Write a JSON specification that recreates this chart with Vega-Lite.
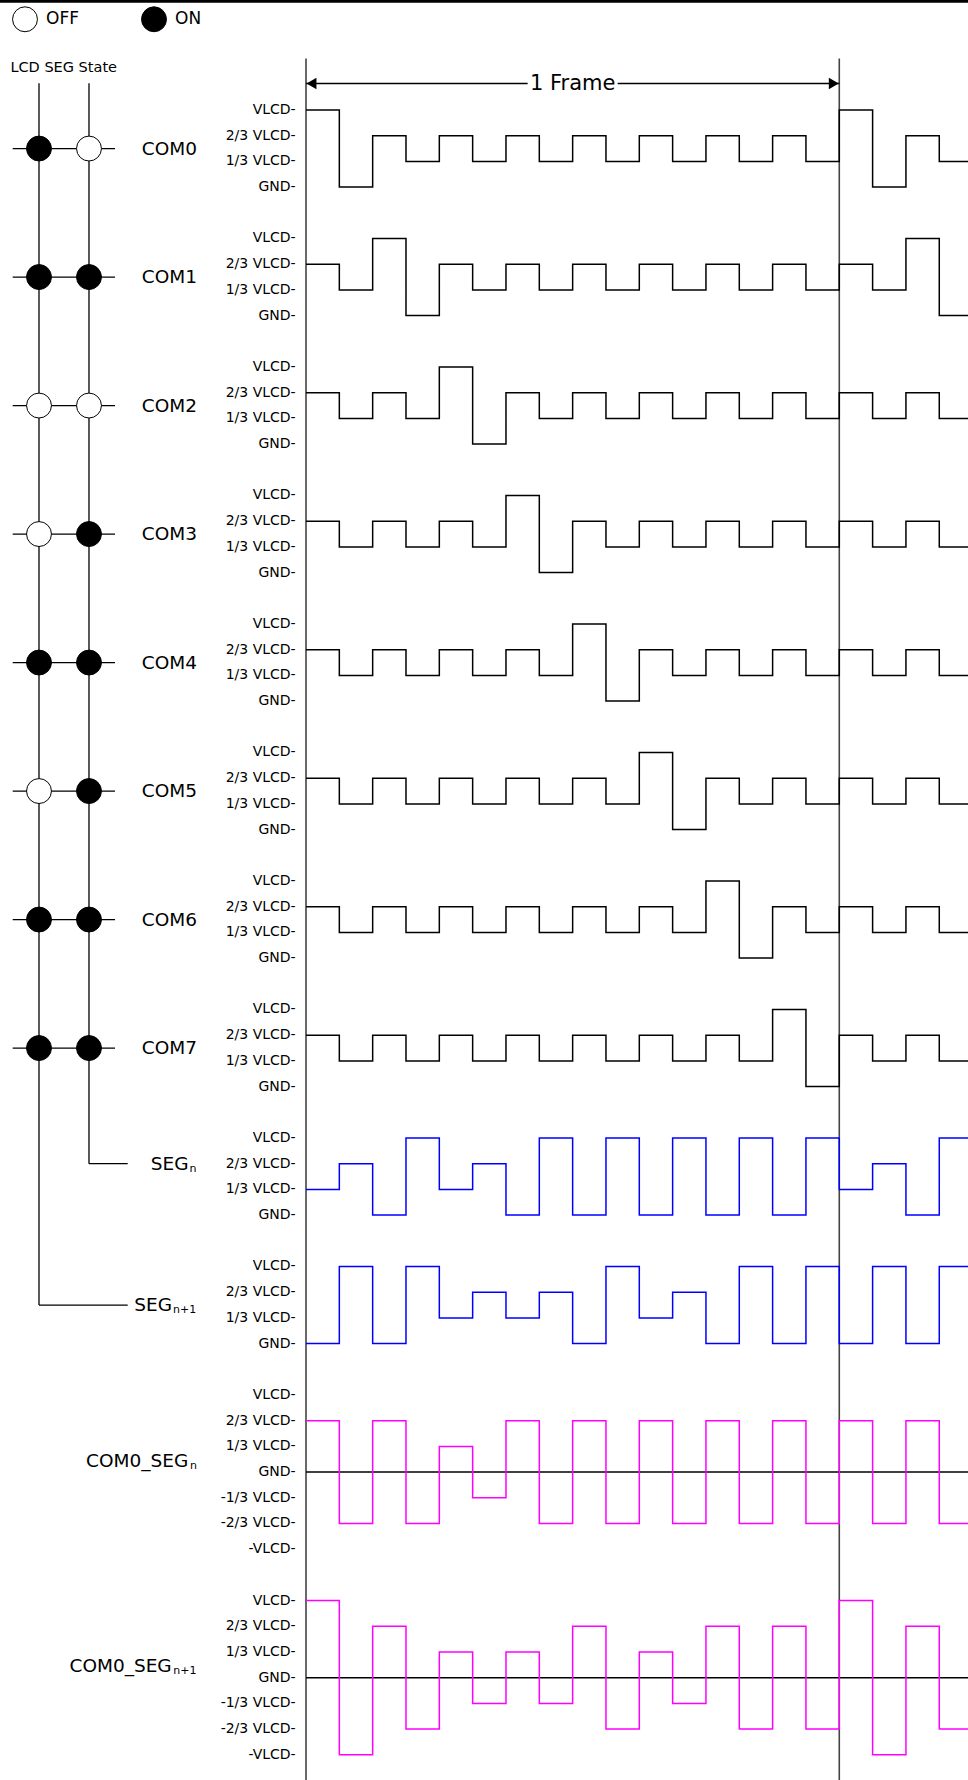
{
  "$schema": "https://vega.github.io/schema/vega-lite/v6.json",
  "width": 968,
  "height": 1780,
  "autosize": {"type": "none"},
  "padding": 0,
  "background": "white",
  "config": {"view": {"stroke": null}, "text": {"font": "DejaVu Sans", "color": "black"}},
  "datasets": {
    "levels4": [
      {"level": 3, "label": "VLCD-"}, {"level": 2, "label": "2/3 VLCD-"}, {"level": 1, "label": "1/3 VLCD-"}, {"level": 0, "label": "GND-"}
    ],
    "levels7": [
      {"level": 3, "label": "VLCD-"}, {"level": 2, "label": "2/3 VLCD-"}, {"level": 1, "label": "1/3 VLCD-"}, {"level": 0, "label": "GND-"},
      {"level": -1, "label": "-1/3 VLCD-"}, {"level": -2, "label": "-2/3 VLCD-"}, {"level": -3, "label": "-VLCD-"}
    ],
    "frames": [{"slot": 0}, {"slot": 16}],
    "states": [
      {"com": "COM0", "seg": "SEGn+1", "state": "ON"}, {"com": "COM0", "seg": "SEGn", "state": "OFF"},
      {"com": "COM1", "seg": "SEGn+1", "state": "ON"}, {"com": "COM1", "seg": "SEGn", "state": "ON"},
      {"com": "COM2", "seg": "SEGn+1", "state": "OFF"}, {"com": "COM2", "seg": "SEGn", "state": "OFF"},
      {"com": "COM3", "seg": "SEGn+1", "state": "OFF"}, {"com": "COM3", "seg": "SEGn", "state": "ON"},
      {"com": "COM4", "seg": "SEGn+1", "state": "ON"}, {"com": "COM4", "seg": "SEGn", "state": "ON"},
      {"com": "COM5", "seg": "SEGn+1", "state": "OFF"}, {"com": "COM5", "seg": "SEGn", "state": "ON"},
      {"com": "COM6", "seg": "SEGn+1", "state": "ON"}, {"com": "COM6", "seg": "SEGn", "state": "ON"},
      {"com": "COM7", "seg": "SEGn+1", "state": "ON"}, {"com": "COM7", "seg": "SEGn", "state": "ON"}
    ],
    "wave": [
      {"sig":"COM0","slot":0,"level":3},{"sig":"COM0","slot":1,"level":0},{"sig":"COM0","slot":2,"level":2},{"sig":"COM0","slot":3,"level":1},{"sig":"COM0","slot":4,"level":2},{"sig":"COM0","slot":5,"level":1},{"sig":"COM0","slot":6,"level":2},{"sig":"COM0","slot":7,"level":1},{"sig":"COM0","slot":8,"level":2},{"sig":"COM0","slot":9,"level":1},{"sig":"COM0","slot":10,"level":2},{"sig":"COM0","slot":11,"level":1},{"sig":"COM0","slot":12,"level":2},{"sig":"COM0","slot":13,"level":1},{"sig":"COM0","slot":14,"level":2},{"sig":"COM0","slot":15,"level":1},{"sig":"COM0","slot":16,"level":3},{"sig":"COM0","slot":17,"level":0},{"sig":"COM0","slot":18,"level":2},{"sig":"COM0","slot":19,"level":1},{"sig":"COM0","slot":20,"level":2},
      {"sig":"COM1","slot":0,"level":2},{"sig":"COM1","slot":1,"level":1},{"sig":"COM1","slot":2,"level":3},{"sig":"COM1","slot":3,"level":0},{"sig":"COM1","slot":4,"level":2},{"sig":"COM1","slot":5,"level":1},{"sig":"COM1","slot":6,"level":2},{"sig":"COM1","slot":7,"level":1},{"sig":"COM1","slot":8,"level":2},{"sig":"COM1","slot":9,"level":1},{"sig":"COM1","slot":10,"level":2},{"sig":"COM1","slot":11,"level":1},{"sig":"COM1","slot":12,"level":2},{"sig":"COM1","slot":13,"level":1},{"sig":"COM1","slot":14,"level":2},{"sig":"COM1","slot":15,"level":1},{"sig":"COM1","slot":16,"level":2},{"sig":"COM1","slot":17,"level":1},{"sig":"COM1","slot":18,"level":3},{"sig":"COM1","slot":19,"level":0},{"sig":"COM1","slot":20,"level":2},
      {"sig":"COM2","slot":0,"level":2},{"sig":"COM2","slot":1,"level":1},{"sig":"COM2","slot":2,"level":2},{"sig":"COM2","slot":3,"level":1},{"sig":"COM2","slot":4,"level":3},{"sig":"COM2","slot":5,"level":0},{"sig":"COM2","slot":6,"level":2},{"sig":"COM2","slot":7,"level":1},{"sig":"COM2","slot":8,"level":2},{"sig":"COM2","slot":9,"level":1},{"sig":"COM2","slot":10,"level":2},{"sig":"COM2","slot":11,"level":1},{"sig":"COM2","slot":12,"level":2},{"sig":"COM2","slot":13,"level":1},{"sig":"COM2","slot":14,"level":2},{"sig":"COM2","slot":15,"level":1},{"sig":"COM2","slot":16,"level":2},{"sig":"COM2","slot":17,"level":1},{"sig":"COM2","slot":18,"level":2},{"sig":"COM2","slot":19,"level":1},{"sig":"COM2","slot":20,"level":3},
      {"sig":"COM3","slot":0,"level":2},{"sig":"COM3","slot":1,"level":1},{"sig":"COM3","slot":2,"level":2},{"sig":"COM3","slot":3,"level":1},{"sig":"COM3","slot":4,"level":2},{"sig":"COM3","slot":5,"level":1},{"sig":"COM3","slot":6,"level":3},{"sig":"COM3","slot":7,"level":0},{"sig":"COM3","slot":8,"level":2},{"sig":"COM3","slot":9,"level":1},{"sig":"COM3","slot":10,"level":2},{"sig":"COM3","slot":11,"level":1},{"sig":"COM3","slot":12,"level":2},{"sig":"COM3","slot":13,"level":1},{"sig":"COM3","slot":14,"level":2},{"sig":"COM3","slot":15,"level":1},{"sig":"COM3","slot":16,"level":2},{"sig":"COM3","slot":17,"level":1},{"sig":"COM3","slot":18,"level":2},{"sig":"COM3","slot":19,"level":1},{"sig":"COM3","slot":20,"level":2},
      {"sig":"COM4","slot":0,"level":2},{"sig":"COM4","slot":1,"level":1},{"sig":"COM4","slot":2,"level":2},{"sig":"COM4","slot":3,"level":1},{"sig":"COM4","slot":4,"level":2},{"sig":"COM4","slot":5,"level":1},{"sig":"COM4","slot":6,"level":2},{"sig":"COM4","slot":7,"level":1},{"sig":"COM4","slot":8,"level":3},{"sig":"COM4","slot":9,"level":0},{"sig":"COM4","slot":10,"level":2},{"sig":"COM4","slot":11,"level":1},{"sig":"COM4","slot":12,"level":2},{"sig":"COM4","slot":13,"level":1},{"sig":"COM4","slot":14,"level":2},{"sig":"COM4","slot":15,"level":1},{"sig":"COM4","slot":16,"level":2},{"sig":"COM4","slot":17,"level":1},{"sig":"COM4","slot":18,"level":2},{"sig":"COM4","slot":19,"level":1},{"sig":"COM4","slot":20,"level":2},
      {"sig":"COM5","slot":0,"level":2},{"sig":"COM5","slot":1,"level":1},{"sig":"COM5","slot":2,"level":2},{"sig":"COM5","slot":3,"level":1},{"sig":"COM5","slot":4,"level":2},{"sig":"COM5","slot":5,"level":1},{"sig":"COM5","slot":6,"level":2},{"sig":"COM5","slot":7,"level":1},{"sig":"COM5","slot":8,"level":2},{"sig":"COM5","slot":9,"level":1},{"sig":"COM5","slot":10,"level":3},{"sig":"COM5","slot":11,"level":0},{"sig":"COM5","slot":12,"level":2},{"sig":"COM5","slot":13,"level":1},{"sig":"COM5","slot":14,"level":2},{"sig":"COM5","slot":15,"level":1},{"sig":"COM5","slot":16,"level":2},{"sig":"COM5","slot":17,"level":1},{"sig":"COM5","slot":18,"level":2},{"sig":"COM5","slot":19,"level":1},{"sig":"COM5","slot":20,"level":2},
      {"sig":"COM6","slot":0,"level":2},{"sig":"COM6","slot":1,"level":1},{"sig":"COM6","slot":2,"level":2},{"sig":"COM6","slot":3,"level":1},{"sig":"COM6","slot":4,"level":2},{"sig":"COM6","slot":5,"level":1},{"sig":"COM6","slot":6,"level":2},{"sig":"COM6","slot":7,"level":1},{"sig":"COM6","slot":8,"level":2},{"sig":"COM6","slot":9,"level":1},{"sig":"COM6","slot":10,"level":2},{"sig":"COM6","slot":11,"level":1},{"sig":"COM6","slot":12,"level":3},{"sig":"COM6","slot":13,"level":0},{"sig":"COM6","slot":14,"level":2},{"sig":"COM6","slot":15,"level":1},{"sig":"COM6","slot":16,"level":2},{"sig":"COM6","slot":17,"level":1},{"sig":"COM6","slot":18,"level":2},{"sig":"COM6","slot":19,"level":1},{"sig":"COM6","slot":20,"level":2},
      {"sig":"COM7","slot":0,"level":2},{"sig":"COM7","slot":1,"level":1},{"sig":"COM7","slot":2,"level":2},{"sig":"COM7","slot":3,"level":1},{"sig":"COM7","slot":4,"level":2},{"sig":"COM7","slot":5,"level":1},{"sig":"COM7","slot":6,"level":2},{"sig":"COM7","slot":7,"level":1},{"sig":"COM7","slot":8,"level":2},{"sig":"COM7","slot":9,"level":1},{"sig":"COM7","slot":10,"level":2},{"sig":"COM7","slot":11,"level":1},{"sig":"COM7","slot":12,"level":2},{"sig":"COM7","slot":13,"level":1},{"sig":"COM7","slot":14,"level":3},{"sig":"COM7","slot":15,"level":0},{"sig":"COM7","slot":16,"level":2},{"sig":"COM7","slot":17,"level":1},{"sig":"COM7","slot":18,"level":2},{"sig":"COM7","slot":19,"level":1},{"sig":"COM7","slot":20,"level":2},
      {"sig":"SEGn","slot":0,"level":1},{"sig":"SEGn","slot":1,"level":2},{"sig":"SEGn","slot":2,"level":0},{"sig":"SEGn","slot":3,"level":3},{"sig":"SEGn","slot":4,"level":1},{"sig":"SEGn","slot":5,"level":2},{"sig":"SEGn","slot":6,"level":0},{"sig":"SEGn","slot":7,"level":3},{"sig":"SEGn","slot":8,"level":0},{"sig":"SEGn","slot":9,"level":3},{"sig":"SEGn","slot":10,"level":0},{"sig":"SEGn","slot":11,"level":3},{"sig":"SEGn","slot":12,"level":0},{"sig":"SEGn","slot":13,"level":3},{"sig":"SEGn","slot":14,"level":0},{"sig":"SEGn","slot":15,"level":3},{"sig":"SEGn","slot":16,"level":1},{"sig":"SEGn","slot":17,"level":2},{"sig":"SEGn","slot":18,"level":0},{"sig":"SEGn","slot":19,"level":3},{"sig":"SEGn","slot":20,"level":1},
      {"sig":"SEGn+1","slot":0,"level":0},{"sig":"SEGn+1","slot":1,"level":3},{"sig":"SEGn+1","slot":2,"level":0},{"sig":"SEGn+1","slot":3,"level":3},{"sig":"SEGn+1","slot":4,"level":1},{"sig":"SEGn+1","slot":5,"level":2},{"sig":"SEGn+1","slot":6,"level":1},{"sig":"SEGn+1","slot":7,"level":2},{"sig":"SEGn+1","slot":8,"level":0},{"sig":"SEGn+1","slot":9,"level":3},{"sig":"SEGn+1","slot":10,"level":1},{"sig":"SEGn+1","slot":11,"level":2},{"sig":"SEGn+1","slot":12,"level":0},{"sig":"SEGn+1","slot":13,"level":3},{"sig":"SEGn+1","slot":14,"level":0},{"sig":"SEGn+1","slot":15,"level":3},{"sig":"SEGn+1","slot":16,"level":0},{"sig":"SEGn+1","slot":17,"level":3},{"sig":"SEGn+1","slot":18,"level":0},{"sig":"SEGn+1","slot":19,"level":3},{"sig":"SEGn+1","slot":20,"level":1},
      {"sig":"COM0_SEGn","slot":0,"level":2},{"sig":"COM0_SEGn","slot":1,"level":-2},{"sig":"COM0_SEGn","slot":2,"level":2},{"sig":"COM0_SEGn","slot":3,"level":-2},{"sig":"COM0_SEGn","slot":4,"level":1},{"sig":"COM0_SEGn","slot":5,"level":-1},{"sig":"COM0_SEGn","slot":6,"level":2},{"sig":"COM0_SEGn","slot":7,"level":-2},{"sig":"COM0_SEGn","slot":8,"level":2},{"sig":"COM0_SEGn","slot":9,"level":-2},{"sig":"COM0_SEGn","slot":10,"level":2},{"sig":"COM0_SEGn","slot":11,"level":-2},{"sig":"COM0_SEGn","slot":12,"level":2},{"sig":"COM0_SEGn","slot":13,"level":-2},{"sig":"COM0_SEGn","slot":14,"level":2},{"sig":"COM0_SEGn","slot":15,"level":-2},{"sig":"COM0_SEGn","slot":16,"level":2},{"sig":"COM0_SEGn","slot":17,"level":-2},{"sig":"COM0_SEGn","slot":18,"level":2},{"sig":"COM0_SEGn","slot":19,"level":-2},{"sig":"COM0_SEGn","slot":20,"level":1},
      {"sig":"COM0_SEGn+1","slot":0,"level":3},{"sig":"COM0_SEGn+1","slot":1,"level":-3},{"sig":"COM0_SEGn+1","slot":2,"level":2},{"sig":"COM0_SEGn+1","slot":3,"level":-2},{"sig":"COM0_SEGn+1","slot":4,"level":1},{"sig":"COM0_SEGn+1","slot":5,"level":-1},{"sig":"COM0_SEGn+1","slot":6,"level":1},{"sig":"COM0_SEGn+1","slot":7,"level":-1},{"sig":"COM0_SEGn+1","slot":8,"level":2},{"sig":"COM0_SEGn+1","slot":9,"level":-2},{"sig":"COM0_SEGn+1","slot":10,"level":1},{"sig":"COM0_SEGn+1","slot":11,"level":-1},{"sig":"COM0_SEGn+1","slot":12,"level":2},{"sig":"COM0_SEGn+1","slot":13,"level":-2},{"sig":"COM0_SEGn+1","slot":14,"level":2},{"sig":"COM0_SEGn+1","slot":15,"level":-2},{"sig":"COM0_SEGn+1","slot":16,"level":3},{"sig":"COM0_SEGn+1","slot":17,"level":-3},{"sig":"COM0_SEGn+1","slot":18,"level":2},{"sig":"COM0_SEGn+1","slot":19,"level":-2},{"sig":"COM0_SEGn+1","slot":20,"level":1}
    ]
  },
  "resolve": {"scale": {"y": "independent"}},
  "layer": [
    {"data": {"name": "frames"}, "mark": {"type": "rule", "color": "#444444", "strokeWidth": 1.6},
     "encoding": {"x": {"field": "slot", "type": "quantitative", "scale": {"domain": [-9.181, 19.862], "nice": false, "zero": false}, "axis": null},
                  "y": {"datum": -2, "type": "quantitative", "scale": {"domain": [-4.28, 64.981], "reverse": true, "nice": false, "zero": false}, "axis": null},
                  "y2": {"datum": 65.5}}},
    {"data": {"values": [{"kind": "border"}]}, "mark": {"type": "rule", "color": "black", "strokeWidth": 3},
     "encoding": {"x": {"datum": -9.181, "type": "quantitative"}, "x2": {"datum": 19.862},
                  "y": {"datum": -4.23, "type": "quantitative", "scale": {"domain": [-4.28, 64.981], "reverse": true, "nice": false, "zero": false}, "axis": null}}},
    {"data": {"values": [{"seg": "SEGn+1"}]}, "mark": {"type": "rule", "color": "black", "strokeWidth": 1.3},
     "encoding": {"x": {"datum": -8.011, "type": "quantitative"},
                  "y": {"datum": -1.04, "type": "quantitative", "scale": {"domain": [-4.28, 64.981], "reverse": true, "nice": false, "zero": false}, "axis": null},
                  "y2": {"datum": 46.5}}},
    {"data": {"values": [{"seg": "SEGn"}]}, "mark": {"type": "rule", "color": "black", "strokeWidth": 1.3},
     "encoding": {"x": {"datum": -6.511, "type": "quantitative"},
                  "y": {"datum": -1.04, "type": "quantitative", "scale": {"domain": [-4.28, 64.981], "reverse": true, "nice": false, "zero": false}, "axis": null},
                  "y2": {"datum": 41}}},
    {"data": {"values": [{"title": "LCD SEG State"}]}, "mark": {"type": "text", "fontSize": 14.5, "baseline": "middle", "align": "center"},
     "encoding": {"x": {"datum": -7.27, "type": "quantitative"},
                  "y": {"datum": -1.634, "type": "quantitative", "scale": {"domain": [-4.28, 64.981], "reverse": true, "nice": false, "zero": false}, "axis": null},
                  "text": {"field": "title"}}},
    {"data": {"values": [{"part": "left"}]}, "mark": {"type": "rule", "color": "black", "strokeWidth": 1.3},
     "encoding": {"x": {"datum": 0, "type": "quantitative"}, "x2": {"datum": 6.65},
                  "y": {"datum": -1.03, "type": "quantitative", "scale": {"domain": [-4.28, 64.981], "reverse": true, "nice": false, "zero": false}, "axis": null}}},
    {"data": {"values": [{"part": "right"}]}, "mark": {"type": "rule", "color": "black", "strokeWidth": 1.3},
     "encoding": {"x": {"datum": 9.35, "type": "quantitative"}, "x2": {"datum": 16},
                  "y": {"datum": -1.03, "type": "quantitative", "scale": {"domain": [-4.28, 64.981], "reverse": true, "nice": false, "zero": false}, "axis": null}}},
    {"data": {"values": [{"part": "head-left"}]}, "mark": {"type": "point", "shape": "triangle-left", "size": 130, "filled": true, "color": "black", "opacity": 1, "xOffset": 5.5},
     "encoding": {"x": {"datum": 0, "type": "quantitative"},
                  "y": {"datum": -1.03, "type": "quantitative", "scale": {"domain": [-4.28, 64.981], "reverse": true, "nice": false, "zero": false}, "axis": null}}},
    {"data": {"values": [{"part": "head-right"}]}, "mark": {"type": "point", "shape": "triangle-right", "size": 130, "filled": true, "color": "black", "opacity": 1, "xOffset": -5.5},
     "encoding": {"x": {"datum": 16, "type": "quantitative"},
                  "y": {"datum": -1.03, "type": "quantitative", "scale": {"domain": [-4.28, 64.981], "reverse": true, "nice": false, "zero": false}, "axis": null}}},
    {"data": {"values": [{"label": "1 Frame"}]}, "mark": {"type": "text", "fontSize": 21, "baseline": "middle", "align": "center"},
     "encoding": {"x": {"datum": 8, "type": "quantitative"},
                  "y": {"datum": -1.03, "type": "quantitative", "scale": {"domain": [-4.28, 64.981], "reverse": true, "nice": false, "zero": false}, "axis": null},
                  "text": {"field": "label"}}},

    {"data": {"name": "states"}, "transform": [{"filter": "datum.seg === 'SEGn'"}], "mark": {"type": "rule", "color": "black", "strokeWidth": 1.3},
     "encoding": {"x": {"datum": -8.8, "type": "quantitative"}, "x2": {"datum": -5.73},
                  "y": {"field": "com", "type": "nominal", "scale": {"type": "point", "domain": ["COM0","COM1","COM2","COM3","COM4","COM5","COM6","COM7","SEGn","SEGn+1","COM0_SEGn","COM0_SEGn+1","end"], "padding": 0.926, "align": 0.6242}, "axis": null}}},
    {"data": {"name": "states"}, "transform": [{"filter": "datum.seg === 'SEGn+1'"}], "mark": {"type": "point", "shape": "circle", "filled": true, "size": 620, "stroke": "black", "strokeWidth": 1, "opacity": 1},
     "encoding": {"x": {"datum": -8.011, "type": "quantitative"},
                  "y": {"field": "com", "type": "nominal", "scale": {"type": "point", "domain": ["COM0","COM1","COM2","COM3","COM4","COM5","COM6","COM7","SEGn","SEGn+1","COM0_SEGn","COM0_SEGn+1","end"], "padding": 0.926, "align": 0.6242}, "axis": null},
                  "fill": {"field": "state", "type": "nominal", "scale": {"domain": ["OFF", "ON"], "range": ["white", "black"]},
                           "legend": {"orient": "none", "legendX": 12, "legendY": 6, "direction": "horizontal", "title": null, "symbolType": "circle", "symbolSize": 620, "symbolStrokeColor": "black", "symbolStrokeWidth": 1, "symbolOpacity": 1, "labelFont": "DejaVu Sans", "labelFontSize": 17, "labelColor": "black", "labelOffset": 8, "columnPadding": 60, "padding": 0}}}},
    {"data": {"name": "states"}, "transform": [{"filter": "datum.seg === 'SEGn'"}], "mark": {"type": "point", "shape": "circle", "filled": true, "size": 620, "stroke": "black", "strokeWidth": 1, "opacity": 1},
     "encoding": {"x": {"datum": -6.511, "type": "quantitative"},
                  "y": {"field": "com", "type": "nominal", "scale": {"type": "point", "domain": ["COM0","COM1","COM2","COM3","COM4","COM5","COM6","COM7","SEGn","SEGn+1","COM0_SEGn","COM0_SEGn+1","end"], "padding": 0.926, "align": 0.6242}, "axis": null},
                  "fill": {"field": "state", "type": "nominal"}}},
    {"data": {"name": "states"}, "transform": [{"filter": "datum.seg === 'SEGn'"}], "mark": {"type": "text", "align": "right", "baseline": "middle", "fontSize": 18.5},
     "encoding": {"x": {"datum": -3.27, "type": "quantitative"},
                  "y": {"field": "com", "type": "nominal", "scale": {"type": "point", "domain": ["COM0","COM1","COM2","COM3","COM4","COM5","COM6","COM7","SEGn","SEGn+1","COM0_SEGn","COM0_SEGn+1","end"], "padding": 0.926, "align": 0.6242}, "axis": null},
                  "text": {"field": "com"}}},

    {"data": {"name": "levels4"}, "mark": {"type": "text", "align": "right", "baseline": "middle", "fontSize": 14},
     "encoding": {"x": {"datum": -0.31, "type": "quantitative"}, "y": {"field": "level", "type": "quantitative", "scale": {"domain": [-61.981, 7.28], "nice": false, "zero": false}, "axis": null}, "text": {"field": "label"}}},
    {"data": {"name": "wave"}, "transform": [{"filter": "datum.sig === 'COM0'"}], "mark": {"type": "line", "interpolate": "step-after", "color": "black", "strokeWidth": 1.5},
     "encoding": {"x": {"field": "slot", "type": "quantitative"}, "y": {"field": "level", "type": "quantitative", "scale": {"domain": [-61.981, 7.28], "nice": false, "zero": false}, "axis": null}}},

    {"data": {"name": "levels4"}, "mark": {"type": "text", "align": "right", "baseline": "middle", "fontSize": 14},
     "encoding": {"x": {"datum": -0.31, "type": "quantitative"}, "y": {"field": "level", "type": "quantitative", "scale": {"domain": [-56.981, 12.28], "nice": false, "zero": false}, "axis": null}, "text": {"field": "label"}}},
    {"data": {"name": "wave"}, "transform": [{"filter": "datum.sig === 'COM1'"}], "mark": {"type": "line", "interpolate": "step-after", "color": "black", "strokeWidth": 1.5},
     "encoding": {"x": {"field": "slot", "type": "quantitative"}, "y": {"field": "level", "type": "quantitative", "scale": {"domain": [-56.981, 12.28], "nice": false, "zero": false}, "axis": null}}},

    {"data": {"name": "levels4"}, "mark": {"type": "text", "align": "right", "baseline": "middle", "fontSize": 14},
     "encoding": {"x": {"datum": -0.31, "type": "quantitative"}, "y": {"field": "level", "type": "quantitative", "scale": {"domain": [-51.981, 17.28], "nice": false, "zero": false}, "axis": null}, "text": {"field": "label"}}},
    {"data": {"name": "wave"}, "transform": [{"filter": "datum.sig === 'COM2'"}], "mark": {"type": "line", "interpolate": "step-after", "color": "black", "strokeWidth": 1.5},
     "encoding": {"x": {"field": "slot", "type": "quantitative"}, "y": {"field": "level", "type": "quantitative", "scale": {"domain": [-51.981, 17.28], "nice": false, "zero": false}, "axis": null}}},

    {"data": {"name": "levels4"}, "mark": {"type": "text", "align": "right", "baseline": "middle", "fontSize": 14},
     "encoding": {"x": {"datum": -0.31, "type": "quantitative"}, "y": {"field": "level", "type": "quantitative", "scale": {"domain": [-46.981, 22.28], "nice": false, "zero": false}, "axis": null}, "text": {"field": "label"}}},
    {"data": {"name": "wave"}, "transform": [{"filter": "datum.sig === 'COM3'"}], "mark": {"type": "line", "interpolate": "step-after", "color": "black", "strokeWidth": 1.5},
     "encoding": {"x": {"field": "slot", "type": "quantitative"}, "y": {"field": "level", "type": "quantitative", "scale": {"domain": [-46.981, 22.28], "nice": false, "zero": false}, "axis": null}}},

    {"data": {"name": "levels4"}, "mark": {"type": "text", "align": "right", "baseline": "middle", "fontSize": 14},
     "encoding": {"x": {"datum": -0.31, "type": "quantitative"}, "y": {"field": "level", "type": "quantitative", "scale": {"domain": [-41.981, 27.28], "nice": false, "zero": false}, "axis": null}, "text": {"field": "label"}}},
    {"data": {"name": "wave"}, "transform": [{"filter": "datum.sig === 'COM4'"}], "mark": {"type": "line", "interpolate": "step-after", "color": "black", "strokeWidth": 1.5},
     "encoding": {"x": {"field": "slot", "type": "quantitative"}, "y": {"field": "level", "type": "quantitative", "scale": {"domain": [-41.981, 27.28], "nice": false, "zero": false}, "axis": null}}},

    {"data": {"name": "levels4"}, "mark": {"type": "text", "align": "right", "baseline": "middle", "fontSize": 14},
     "encoding": {"x": {"datum": -0.31, "type": "quantitative"}, "y": {"field": "level", "type": "quantitative", "scale": {"domain": [-36.981, 32.28], "nice": false, "zero": false}, "axis": null}, "text": {"field": "label"}}},
    {"data": {"name": "wave"}, "transform": [{"filter": "datum.sig === 'COM5'"}], "mark": {"type": "line", "interpolate": "step-after", "color": "black", "strokeWidth": 1.5},
     "encoding": {"x": {"field": "slot", "type": "quantitative"}, "y": {"field": "level", "type": "quantitative", "scale": {"domain": [-36.981, 32.28], "nice": false, "zero": false}, "axis": null}}},

    {"data": {"name": "levels4"}, "mark": {"type": "text", "align": "right", "baseline": "middle", "fontSize": 14},
     "encoding": {"x": {"datum": -0.31, "type": "quantitative"}, "y": {"field": "level", "type": "quantitative", "scale": {"domain": [-31.981, 37.28], "nice": false, "zero": false}, "axis": null}, "text": {"field": "label"}}},
    {"data": {"name": "wave"}, "transform": [{"filter": "datum.sig === 'COM6'"}], "mark": {"type": "line", "interpolate": "step-after", "color": "black", "strokeWidth": 1.5},
     "encoding": {"x": {"field": "slot", "type": "quantitative"}, "y": {"field": "level", "type": "quantitative", "scale": {"domain": [-31.981, 37.28], "nice": false, "zero": false}, "axis": null}}},

    {"data": {"name": "levels4"}, "mark": {"type": "text", "align": "right", "baseline": "middle", "fontSize": 14},
     "encoding": {"x": {"datum": -0.31, "type": "quantitative"}, "y": {"field": "level", "type": "quantitative", "scale": {"domain": [-26.981, 42.28], "nice": false, "zero": false}, "axis": null}, "text": {"field": "label"}}},
    {"data": {"name": "wave"}, "transform": [{"filter": "datum.sig === 'COM7'"}], "mark": {"type": "line", "interpolate": "step-after", "color": "black", "strokeWidth": 1.5},
     "encoding": {"x": {"field": "slot", "type": "quantitative"}, "y": {"field": "level", "type": "quantitative", "scale": {"domain": [-26.981, 42.28], "nice": false, "zero": false}, "axis": null}}},

    {"data": {"name": "levels4"}, "mark": {"type": "text", "align": "right", "baseline": "middle", "fontSize": 14},
     "encoding": {"x": {"datum": -0.31, "type": "quantitative"}, "y": {"field": "level", "type": "quantitative", "scale": {"domain": [-21.981, 47.28], "nice": false, "zero": false}, "axis": null}, "text": {"field": "label"}}},
    {"data": {"values": [{"seg": "SEGn"}]}, "mark": {"type": "rule", "color": "black", "strokeWidth": 1.3},
     "encoding": {"x": {"datum": -6.511, "type": "quantitative"}, "x2": {"datum": -5.35}, "y": {"datum": 2, "type": "quantitative", "scale": {"domain": [-21.981, 47.28], "nice": false, "zero": false}, "axis": null}}},
    {"data": {"values": [{"main": "SEG", "sub": "n"}]}, "mark": {"type": "text", "align": "right", "baseline": "middle", "fontSize": 18.5},
     "encoding": {"x": {"datum": -3.525, "type": "quantitative"}, "y": {"datum": 2, "type": "quantitative", "scale": {"domain": [-21.981, 47.28], "nice": false, "zero": false}, "axis": null}, "text": {"field": "main"}}},
    {"data": {"values": [{"main": "SEG", "sub": "n"}]}, "mark": {"type": "text", "align": "left", "baseline": "middle", "fontSize": 11, "dy": 5},
     "encoding": {"x": {"datum": -3.495, "type": "quantitative"}, "y": {"datum": 2, "type": "quantitative", "scale": {"domain": [-21.981, 47.28], "nice": false, "zero": false}, "axis": null}, "text": {"field": "sub"}}},
    {"data": {"name": "wave"}, "transform": [{"filter": "datum.sig === 'SEGn'"}], "mark": {"type": "line", "interpolate": "step-after", "color": "#0000ff", "strokeWidth": 1.5},
     "encoding": {"x": {"field": "slot", "type": "quantitative"}, "y": {"field": "level", "type": "quantitative", "scale": {"domain": [-21.981, 47.28], "nice": false, "zero": false}, "axis": null}}},

    {"data": {"name": "levels4"}, "mark": {"type": "text", "align": "right", "baseline": "middle", "fontSize": 14},
     "encoding": {"x": {"datum": -0.31, "type": "quantitative"}, "y": {"field": "level", "type": "quantitative", "scale": {"domain": [-16.981, 52.28], "nice": false, "zero": false}, "axis": null}, "text": {"field": "label"}}},
    {"data": {"values": [{"seg": "SEGn+1"}]}, "mark": {"type": "rule", "color": "black", "strokeWidth": 1.3},
     "encoding": {"x": {"datum": -8.011, "type": "quantitative"}, "x2": {"datum": -5.35}, "y": {"datum": 1.5, "type": "quantitative", "scale": {"domain": [-16.981, 52.28], "nice": false, "zero": false}, "axis": null}}},
    {"data": {"values": [{"main": "SEG", "sub": "n+1"}]}, "mark": {"type": "text", "align": "right", "baseline": "middle", "fontSize": 18.5},
     "encoding": {"x": {"datum": -4.02, "type": "quantitative"}, "y": {"datum": 1.5, "type": "quantitative", "scale": {"domain": [-16.981, 52.28], "nice": false, "zero": false}, "axis": null}, "text": {"field": "main"}}},
    {"data": {"values": [{"main": "SEG", "sub": "n+1"}]}, "mark": {"type": "text", "align": "left", "baseline": "middle", "fontSize": 11, "dy": 5},
     "encoding": {"x": {"datum": -3.99, "type": "quantitative"}, "y": {"datum": 1.5, "type": "quantitative", "scale": {"domain": [-16.981, 52.28], "nice": false, "zero": false}, "axis": null}, "text": {"field": "sub"}}},
    {"data": {"name": "wave"}, "transform": [{"filter": "datum.sig === 'SEGn+1'"}], "mark": {"type": "line", "interpolate": "step-after", "color": "#0000ff", "strokeWidth": 1.5},
     "encoding": {"x": {"field": "slot", "type": "quantitative"}, "y": {"field": "level", "type": "quantitative", "scale": {"domain": [-16.981, 52.28], "nice": false, "zero": false}, "axis": null}}},

    {"data": {"name": "levels7"}, "mark": {"type": "text", "align": "right", "baseline": "middle", "fontSize": 14},
     "encoding": {"x": {"datum": -0.31, "type": "quantitative"}, "y": {"field": "level", "type": "quantitative", "scale": {"domain": [-11.981, 57.28], "nice": false, "zero": false}, "axis": null}, "text": {"field": "label"}}},
    {"data": {"values": [{"ref": "GND"}]}, "mark": {"type": "rule", "color": "black", "strokeWidth": 1.5},
     "encoding": {"x": {"datum": 0, "type": "quantitative"}, "x2": {"datum": 19.862}, "y": {"datum": 0, "type": "quantitative", "scale": {"domain": [-11.981, 57.28], "nice": false, "zero": false}, "axis": null}}},
    {"data": {"values": [{"main": "COM0_SEG", "sub": "n"}]}, "mark": {"type": "text", "align": "right", "baseline": "middle", "fontSize": 18.5},
     "encoding": {"x": {"datum": -3.531, "type": "quantitative"}, "y": {"datum": 0.44, "type": "quantitative", "scale": {"domain": [-11.981, 57.28], "nice": false, "zero": false}, "axis": null}, "text": {"field": "main"}}},
    {"data": {"values": [{"main": "COM0_SEG", "sub": "n"}]}, "mark": {"type": "text", "align": "left", "baseline": "middle", "fontSize": 11, "dy": 5},
     "encoding": {"x": {"datum": -3.48, "type": "quantitative"}, "y": {"datum": 0.44, "type": "quantitative", "scale": {"domain": [-11.981, 57.28], "nice": false, "zero": false}, "axis": null}, "text": {"field": "sub"}}},
    {"data": {"name": "wave"}, "transform": [{"filter": "datum.sig === 'COM0_SEGn'"}], "mark": {"type": "line", "interpolate": "step-after", "color": "#ff00ff", "strokeWidth": 1.5},
     "encoding": {"x": {"field": "slot", "type": "quantitative"}, "y": {"field": "level", "type": "quantitative", "scale": {"domain": [-11.981, 57.28], "nice": false, "zero": false}, "axis": null}}},

    {"data": {"name": "levels7"}, "mark": {"type": "text", "align": "right", "baseline": "middle", "fontSize": 14},
     "encoding": {"x": {"datum": -0.31, "type": "quantitative"}, "y": {"field": "level", "type": "quantitative", "scale": {"domain": [-3.981, 65.28], "nice": false, "zero": false}, "axis": null}, "text": {"field": "label"}}},
    {"data": {"values": [{"ref": "GND"}]}, "mark": {"type": "rule", "color": "black", "strokeWidth": 1.5},
     "encoding": {"x": {"datum": 0, "type": "quantitative"}, "x2": {"datum": 19.862}, "y": {"datum": 0, "type": "quantitative", "scale": {"domain": [-3.981, 65.28], "nice": false, "zero": false}, "axis": null}}},
    {"data": {"values": [{"main": "COM0_SEG", "sub": "n+1"}]}, "mark": {"type": "text", "align": "right", "baseline": "middle", "fontSize": 18.5},
     "encoding": {"x": {"datum": -4.029, "type": "quantitative"}, "y": {"datum": 0.44, "type": "quantitative", "scale": {"domain": [-3.981, 65.28], "nice": false, "zero": false}, "axis": null}, "text": {"field": "main"}}},
    {"data": {"values": [{"main": "COM0_SEG", "sub": "n+1"}]}, "mark": {"type": "text", "align": "left", "baseline": "middle", "fontSize": 11, "dy": 5},
     "encoding": {"x": {"datum": -3.98, "type": "quantitative"}, "y": {"datum": 0.44, "type": "quantitative", "scale": {"domain": [-3.981, 65.28], "nice": false, "zero": false}, "axis": null}, "text": {"field": "sub"}}},
    {"data": {"name": "wave"}, "transform": [{"filter": "datum.sig === 'COM0_SEGn+1'"}], "mark": {"type": "line", "interpolate": "step-after", "color": "#ff00ff", "strokeWidth": 1.5},
     "encoding": {"x": {"field": "slot", "type": "quantitative"}, "y": {"field": "level", "type": "quantitative", "scale": {"domain": [-3.981, 65.28], "nice": false, "zero": false}, "axis": null}}}
  ]
}
